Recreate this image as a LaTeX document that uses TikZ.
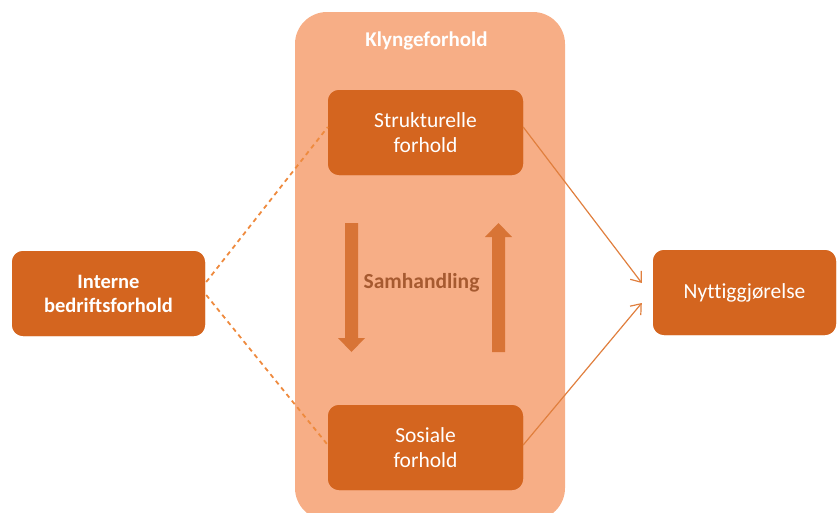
\documentclass[tikz,border=0pt]{standalone}
\usepackage{fontspec}
\setmainfont[Ligatures=NoCommon]{Carlito}
\usetikzlibrary{arrows.meta}
\definecolor{clusterfill}{HTML}{F7AE86}
\definecolor{boxfill}{HTML}{D4651F}
\definecolor{flowarrow}{HTML}{D87436}
\definecolor{flowtext}{HTML}{A65A30}
\definecolor{dashcol}{HTML}{EE8A3E}
\definecolor{linkcol}{HTML}{E07F3E}
\tikzset{
  darkbox/.style={fill=boxfill, rounded corners=11pt, text=white, align=center,
    font=\fontsize{21.5}{25}\selectfont, inner sep=0pt},
  dashlink/.style={dashcol, line width=1.8pt, dash pattern=on 4.5pt off 4pt},
  solidlink/.style={linkcol, line width=1.2pt, -{Straight Barb[length=9pt,width=14pt,line width=1.2pt]}},
  blockarrow/.style={fill=flowarrow, draw=none},
}
\begin{document}
\begin{tikzpicture}[x=1pt,y=-1pt]
\useasboundingbox (0,0) rectangle (839,512);
\begin{scope}
\clip (0,0) rectangle (839,512);
% cluster background
\path[fill=clusterfill, rounded corners=32pt] (295,12) rectangle (565,520);
\end{scope}
\node[font=\bfseries\fontsize{21}{25}\selectfont, text=white] (title) at (426.5,41) {Klyngeforhold};

% boxes
\path[darkbox] (328,90) rectangle (523,175);
\node[darkbox, minimum width=195pt, minimum height=85pt] (struk) at (425.5,132.5) {Strukturelle\\forhold};
\path[darkbox] (328,405) rectangle (523,490);
\node[darkbox, minimum width=195pt, minimum height=85pt] (sos) at (425.5,447.5) {Sosiale\\forhold};
\path[darkbox] (12,251) rectangle (205,336);
\node[darkbox, minimum width=193pt, minimum height=85pt, font=\bfseries\fontsize{20.5}{24}\selectfont] (intern) at (108.5,293.5) {Interne\\bedriftsforhold};
\path[darkbox] (653,250) rectangle (836,335);
\node[darkbox, minimum width=183pt, minimum height=85pt] (nytt) at (744.5,292.5) {Nyttiggjørelse};

% interaction arrows
\coordinate (dtip) at (351.5,352);
\fill[blockarrow] (345,223) -- (358,223) -- (358,338) -- (365,338) -- (dtip) -- (338,338) -- (345,338) -- cycle;
\coordinate (utip) at (498.5,223);
\fill[blockarrow] (492,352) -- (505,352) -- (505,237) -- (512,237) -- (utip) -- (485,237) -- (492,237) -- cycle;
\node[font=\bfseries\fontsize{21.5}{25}\selectfont, text=flowtext] (samh) at (421.5,283) {Samhandling};

% links (canvas yshift: positive is upwards)
\draw[dashlink] ([xshift=1pt,yshift=11.5pt]intern.east) -- ([yshift=5.5pt]struk.west);
\draw[dashlink] ([xshift=1pt,yshift=-1.5pt]intern.east) -- ([yshift=2.5pt]sos.west);
\draw[solidlink] ([yshift=5.5pt]struk.east) -- ([xshift=-11pt,yshift=9.5pt]nytt.west);
\draw[solidlink] ([yshift=2.5pt]sos.east) -- ([xshift=-11pt,yshift=-10.5pt]nytt.west);
\end{tikzpicture}
\end{document}
